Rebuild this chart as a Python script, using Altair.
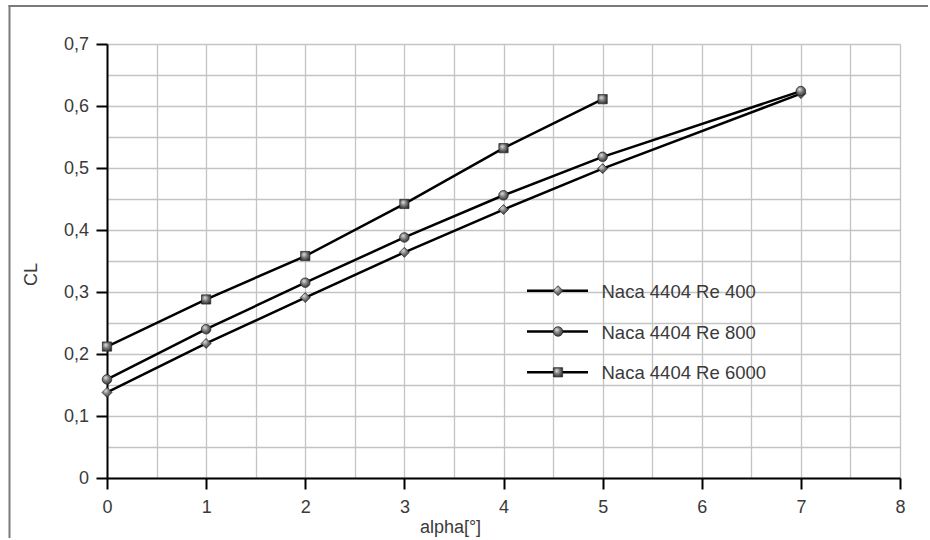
import altair as alt
import pandas as pd

# Lift coefficient vs. angle of attack for the NACA 4404 profile
series_names = ["Naca 4404 Re 400", "Naca 4404 Re 800", "Naca 4404 Re 6000"]

alpha_re400 = [0, 1, 2, 3, 4, 5, 7]
cl_re400 = [0.138, 0.217, 0.291, 0.364, 0.433, 0.499, 0.620]

alpha_re800 = [0, 1, 2, 3, 4, 5, 7]
cl_re800 = [0.159, 0.240, 0.315, 0.388, 0.456, 0.518, 0.624]

alpha_re6000 = [0, 1, 2, 3, 4, 5]
cl_re6000 = [0.212, 0.288, 0.358, 0.442, 0.532, 0.611]

marker_shapes = ["diamond", "circle", "square"]
marker_sizes = [100, 85, 80]

rows = []
for name, xs, ys in zip(series_names,
                        [alpha_re400, alpha_re800, alpha_re6000],
                        [cl_re400, cl_re800, cl_re6000]):
    for a, c in zip(xs, ys):
        rows.append({"series": name, "alpha": a, "cl": c})
df = pd.DataFrame(rows)

FONT = "Liberation Sans"
TEXT = "#3a3a3a"
GRID = "#c4c4c4"
FRAME = "#7a7a7a"

# Overall figure size and plot-area placement inside it
FIG_W, FIG_H = 930, 540
PAD_L, PAD_T = 107, 44
PLOT_W, PLOT_H = 793, 434

x_ticks = [i / 2 for i in range(17)]
y_ticks = [round(i * 0.05, 2) for i in range(15)]

marker_fill = alt.RadialGradient(
    gradient="radial",
    stops=[
        alt.GradientStop(color="#e6e6e6", offset=0),
        alt.GradientStop(color="#7a7a7a", offset=0.5),
        alt.GradientStop(color="#2c2c2c", offset=1),
    ],
    x1=0.35, y1=0.3, r1=0, x2=0.45, y2=0.45, r2=0.62,
)

x_axis = alt.Axis(
    values=x_ticks,
    title="alpha[°]",
    grid=True, gridColor=GRID, gridWidth=1.3,
    domainColor="black", domainWidth=2,
    tickColor="black", tickWidth=2, tickSize=11,
    tickOpacity={"condition": {"test": "datum.value % 1 != 0", "value": 0}, "value": 1},
    labelExpr="datum.value % 1 == 0 ? format(datum.value, 'd') : ''",
    labelFlush=False, labelAlign="center",
    labelFont=FONT, labelFontSize=18, labelColor=TEXT,
    labelBaseline="alphabetic", labelPadding=23.5,
    titleFont=FONT, titleFontSize=18, titleColor=TEXT, titleFontWeight="normal",
    titleX=343, titleY=54.5, titleAlign="center", titleBaseline="alphabetic",
)

y_axis = alt.Axis(
    values=y_ticks,
    title="CL",
    grid=True, gridColor=GRID, gridWidth=1.3,
    domainColor="black", domainWidth=2,
    tickColor="black", tickWidth=2, tickSize=11,
    tickOpacity={"condition": {"test": "round(datum.value * 100) % 10 != 0", "value": 0}, "value": 1},
    labelExpr=(
        "round(datum.value * 100) % 10 != 0 ? '' : "
        "(datum.value == 0 ? '0' : replace(format(datum.value, '.1f'), '.', ','))"
    ),
    labelFlush=False,
    labelFont=FONT, labelFontSize=18, labelColor=TEXT, labelPadding=7.5,
    titleFont=FONT, titleFontSize=18, titleColor=TEXT, titleFontWeight="normal",
    titleAngle=270, titleX=-71, titleY=230, titleAlign="center", titleBaseline="alphabetic",
)

x_enc = alt.X("alpha:Q", scale=alt.Scale(domain=[0, 8], nice=False), axis=x_axis)
y_enc = alt.Y("cl:Q", scale=alt.Scale(domain=[0, 0.7], nice=False), axis=y_axis)

shape_scale = alt.Scale(domain=series_names, range=marker_shapes)
size_scale = alt.Scale(domain=series_names, range=marker_sizes)

base = alt.Chart(df)

lines = base.mark_line(color="black", strokeWidth=2.5).encode(
    x=x_enc, y=y_enc, detail="series:N", order="alpha:Q"
)

points = base.mark_point(
    filled=True, fill=marker_fill, stroke="#222222", strokeWidth=0.7, opacity=1
).encode(
    x=x_enc, y=y_enc,
    shape=alt.Shape("series:N", scale=shape_scale, legend=None),
    size=alt.Size("series:N", scale=size_scale, legend=None),
)

# In-plot legend: one row per series, line sample with its marker
legend_top = 246.7
legend_step = 40.8
legend_df = pd.DataFrame({
    "series": series_names,
    "ly": [legend_top + i * legend_step for i in range(len(series_names))],
})
legend_base = alt.Chart(legend_df)
legend_y = alt.Y("ly:Q", scale=None, axis=None)

legend_lines = legend_base.mark_rule(color="black", strokeWidth=2.5).encode(
    x=alt.value(420), x2=alt.value(481), y=legend_y
)
legend_marks = legend_base.mark_point(
    filled=True, fill=marker_fill, stroke="#222222", strokeWidth=0.7, opacity=1
).encode(
    x=alt.value(451), y=legend_y,
    shape=alt.Shape("series:N", scale=shape_scale, legend=None),
    size=alt.Size("series:N", scale=size_scale, legend=None),
)
legend_text = legend_base.mark_text(
    align="left", baseline="middle", font=FONT, fontSize=18.5, color=TEXT, dy=1
).encode(x=alt.value(494.5), y=legend_y, text="series:N")

# Outer frame: left and top edges of the figure border as two segments,
# given in pixels relative to the plot origin
frame_df = pd.DataFrame({
    "fx": [9.5 - PAD_L, 8.5 - PAD_L],
    "fx2": [9.5 - PAD_L, FIG_W - 2 - PAD_L],
    "fy": [5 - PAD_T, 6 - PAD_T],
    "fy2": [FIG_H - 2 - PAD_T, 6 - PAD_T],
})
frame = alt.Chart(frame_df).mark_rule(color=FRAME, strokeWidth=2).encode(
    x=alt.X("fx:Q", scale=None, axis=None),
    x2="fx2:Q",
    y=alt.Y("fy:Q", scale=None, axis=None),
    y2="fy2:Q",
)

chart = alt.layer(
    lines, points, legend_lines, legend_marks, legend_text, frame
).properties(
    width=PLOT_W, height=PLOT_H,
    autosize=alt.AutoSizeParams(type="none"),
    padding={"left": PAD_L, "top": PAD_T,
             "right": FIG_W - PAD_L - PLOT_W, "bottom": FIG_H - PAD_T - PLOT_H},
    background="white",
).configure_view(stroke=None)

chart.save("out.html", embed_options={"renderer": "svg", "actions": False})
